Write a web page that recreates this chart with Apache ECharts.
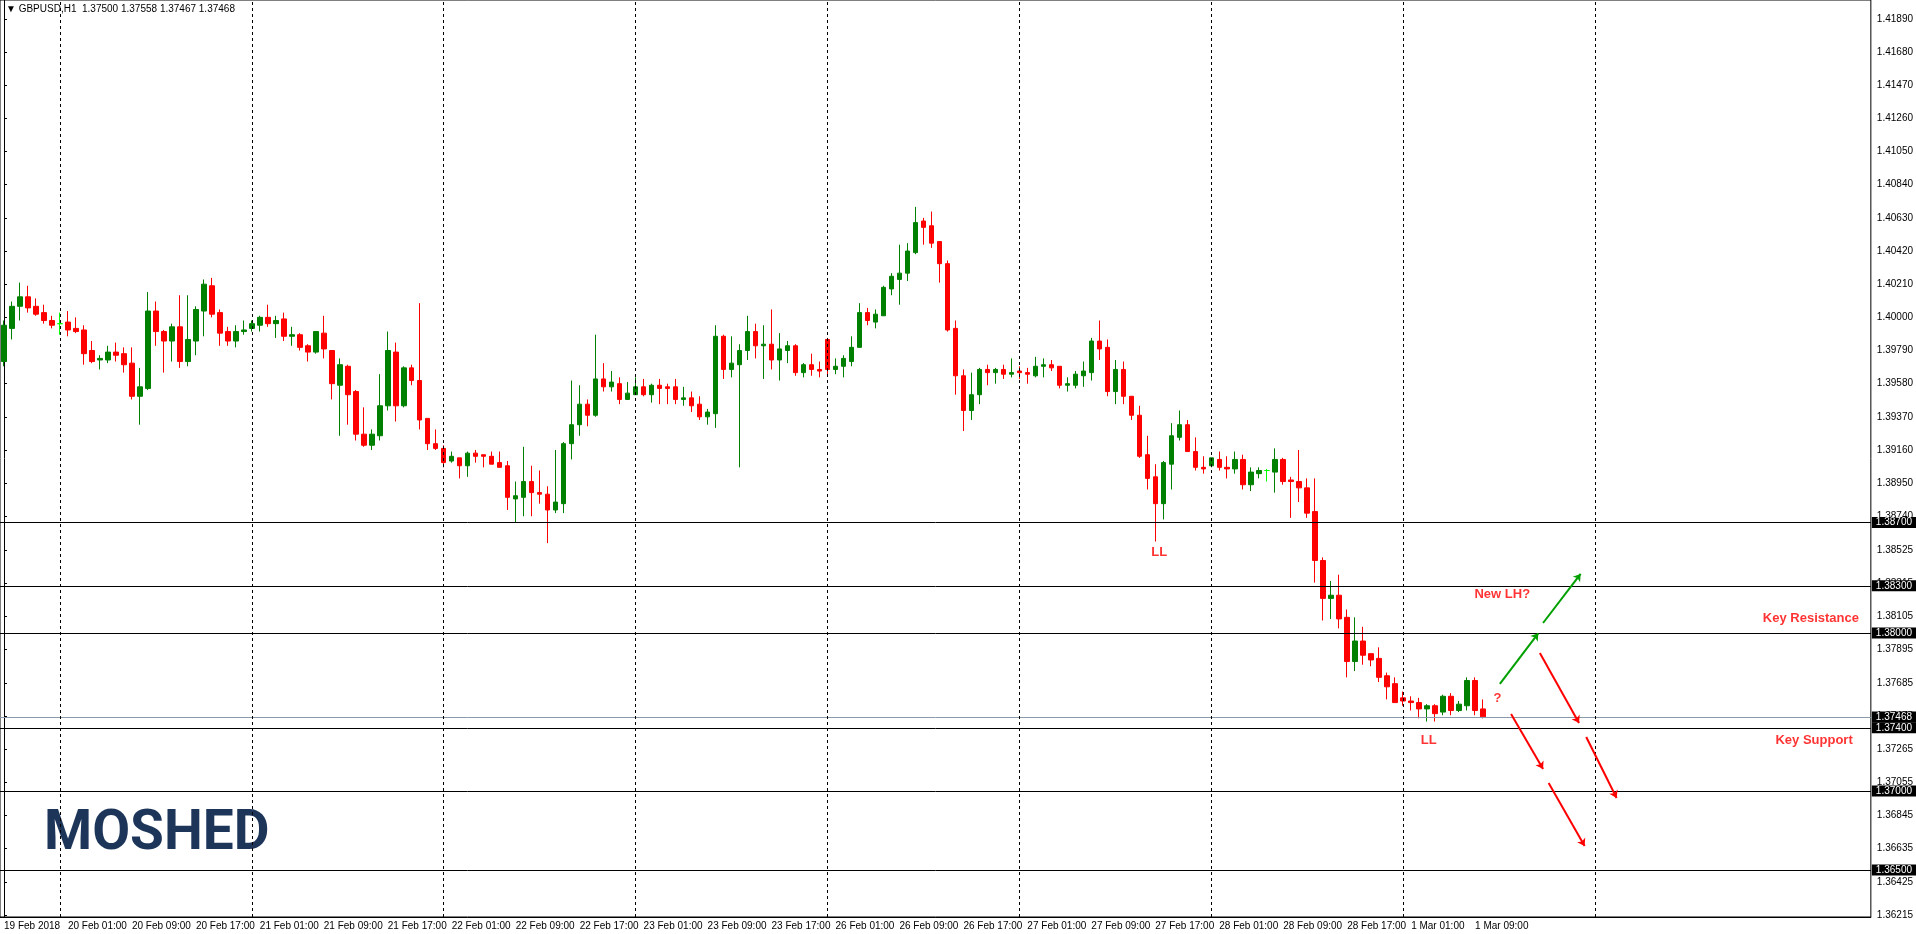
<!DOCTYPE html>
<html>
<head>
<meta charset="utf-8">
<script src="https://cdn.jsdelivr.net/npm/echarts@6/dist/echarts.min.js"></script>
<style>
  html, body { margin: 0; padding: 0; background: #fff; }
  #chart { width: 1916px; height: 934px; }
</style>
</head>
<body>
<div id="chart"></div>
<script>
// GBPUSD H1, 19 Feb 17:00 .. 1 Mar 09:00
const opens = [
  1.3972,1.3993,1.4007,1.4013,1.4007,1.4003,1.3998,1.3996,1.3997,1.3993,1.3992,1.3979,1.3973,1.3973,1.3978,1.3977,1.3971,1.3950,1.3955,1.4004,
  1.3991,1.3985,1.3994,1.3972,1.3985,1.4004,1.4020,1.4003,1.3991,1.3985,1.3991,1.3993,1.3995,1.4000,1.3996,1.3999,1.3988,1.3989,1.3982,1.3978,
  1.3990,1.3979,1.3957,1.3969,1.3953,1.3926,1.3919,1.3925,1.3944,1.3978,1.3944,1.3968,1.3960,1.3936,1.3920,1.3917,1.3909,1.3911,1.3906,1.3914,
  1.3913,1.3912,1.3908,1.3906,1.3885,1.3886,1.3896,1.3889,1.3888,1.3878,1.3882,1.3920,1.3932,1.3945,1.3938,1.3961,1.3956,1.3958,1.3948,1.3951,
  1.3956,1.3951,1.3957,1.3956,1.3956,1.3948,1.3949,1.3945,1.3937,1.3939,1.3988,1.3967,1.3970,1.3979,1.3991,1.3982,1.3983,1.3973,1.3979,1.3982,
  1.3965,1.3970,1.3967,1.3986,1.3967,1.3969,1.3972,1.3981,1.4003,1.3997,1.4001,1.4018,1.4024,1.4028,1.4041,1.4061,1.4058,1.4048,1.4034,1.3993,
  1.3963,1.3941,1.3951,1.3967,1.3965,1.3967,1.3964,1.3966,1.3965,1.3963,1.3969,1.3970,1.3969,1.3957,1.3957,1.3963,1.3965,1.3985,1.3981,1.3953,
  1.3967,1.3950,1.3938,1.3913,1.3899,1.3882,1.3907,1.3924,1.3932,1.3915,1.3905,1.3906,1.3910,1.3905,1.3904,1.3910,1.3894,1.3901,1.3903,1.3902,
  1.3910,1.3897,1.3896,1.3892,1.3877,1.3846,1.3822,1.3824,1.3810,1.3782,1.3795,1.3787,1.3784,1.3773,1.3768,1.3759,1.3757,1.3756,1.3752,1.3754,
  1.3750,1.3760,1.3751,1.3754,1.3770,1.3752
];
const closes = [
  1.3995,1.4007,1.4013,1.4006,1.4002,1.3998,1.3995,1.3996,1.3992,1.3991,1.3977,1.3972,1.3974,1.3978,1.3976,1.3970,1.3950,1.3956,1.4004,1.3991,
  1.3985,1.3994,1.3972,1.3986,1.4005,1.4021,1.4002,1.3990,1.3985,1.3991,1.3992,1.3996,1.4000,1.3996,1.3998,1.3988,1.3989,1.3981,1.3978,1.3991,
  1.3980,1.3958,1.3970,1.3951,1.3926,1.3919,1.3926,1.3944,1.3979,1.3944,1.3968,1.3960,1.3935,1.3920,1.3917,1.3908,1.3912,1.3906,1.3914,1.3912,
  1.3912,1.3907,1.3905,1.3886,1.3887,1.3896,1.3889,1.3888,1.3878,1.3883,1.3920,1.3932,1.3945,1.3938,1.3961,1.3956,1.3959,1.3948,1.3952,1.3956,
  1.3951,1.3957,1.3955,1.3955,1.3948,1.3949,1.3944,1.3937,1.3940,1.3988,1.3967,1.3971,1.3979,1.3991,1.3982,1.3983,1.3973,1.3980,1.3982,1.3965,
  1.3970,1.3967,1.3966,1.3967,1.3969,1.3974,1.3981,1.4003,1.3998,1.4002,1.4019,1.4026,1.4028,1.4042,1.4060,1.4057,1.4047,1.4034,1.3992,1.3963,
  1.3941,1.3951,1.3967,1.3965,1.3967,1.3964,1.3965,1.3965,1.3964,1.3969,1.3970,1.3968,1.3957,1.3958,1.3964,1.3966,1.3985,1.3980,1.3953,1.3967,
  1.3950,1.3938,1.3912,1.3898,1.3882,1.3908,1.3925,1.3932,1.3915,1.3905,1.3904,1.3911,1.3905,1.3904,1.3910,1.3894,1.3902,1.3903,1.3903,1.3910,
  1.3896,1.3896,1.3892,1.3876,1.3846,1.3822,1.3824,1.3809,1.3782,1.3795,1.3786,1.3783,1.3772,1.3766,1.3756,1.3757,1.3756,1.3752,1.3754,1.3749,
  1.3760,1.3751,1.3755,1.3770,1.3751,1.3747
];
const lows = [
  1.3969,1.3986,1.3998,1.4003,1.4001,1.3996,1.3993,1.3989,1.3988,1.3990,1.3970,1.3971,1.3967,1.3971,1.3972,1.3965,1.3948,1.3932,1.3954,1.3982,
  1.3965,1.3972,1.3968,1.3969,1.3976,1.3988,1.4000,1.3982,1.3982,1.3981,1.3989,1.3991,1.3991,1.3994,1.3987,1.3985,1.3982,1.3979,1.3972,1.3977,
  1.3974,1.3948,1.3925,1.3932,1.3922,1.3918,1.3916,1.3922,1.3941,1.3934,1.3943,1.3957,1.3929,1.3916,1.3916,1.3905,1.3908,1.3898,1.3899,1.3908,
  1.3905,1.3907,1.3905,1.3878,1.3870,1.3874,1.3874,1.3882,1.3857,1.3876,1.3876,1.3910,1.3925,1.3931,1.3937,1.3953,1.3953,1.3945,1.3948,1.3951,
  1.3950,1.3946,1.3945,1.3945,1.3945,1.3944,1.3940,1.3935,1.3932,1.3930,1.3961,1.3962,1.3905,1.3973,1.3974,1.3961,1.3967,1.3960,1.3971,1.3963,
  1.3962,1.3963,1.3962,1.3963,1.3964,1.3962,1.3969,1.3981,1.3995,1.3993,1.4001,1.4014,1.4008,1.4023,1.4040,1.4046,1.4044,1.4022,1.3991,1.3951,
  1.3928,1.3935,1.3945,1.3957,1.3958,1.3961,1.3962,1.3961,1.3958,1.3962,1.3962,1.3966,1.3955,1.3953,1.3955,1.3956,1.3960,1.3973,1.3950,1.3945,
  1.3945,1.3935,1.3911,1.3891,1.3858,1.3872,1.3891,1.3922,1.3915,1.3903,1.3901,1.3905,1.3903,1.3898,1.3901,1.3891,1.3890,1.3898,1.3896,1.3889,
  1.3894,1.3873,1.3883,1.3873,1.3832,1.3808,1.3809,1.3803,1.3772,1.3776,1.3780,1.3779,1.3769,1.3758,1.3756,1.3754,1.3751,1.3746,1.3744,1.3744,
  1.3748,1.3748,1.3750,1.3751,1.3748,1.3746
];
const highs = [
  1.3998,1.4010,1.4022,1.4020,1.4012,1.4008,1.4001,1.4003,1.4004,1.4000,1.3995,1.3985,1.3976,1.3982,1.3984,1.3981,1.3981,1.3968,1.4016,1.4010,
  1.3992,1.3996,1.4014,1.4014,1.4007,1.4024,1.4025,1.4005,1.3994,1.3995,1.3998,1.3998,1.4001,1.4008,1.4001,1.4003,1.3994,1.3990,1.3983,1.3991,
  1.4001,1.3979,1.3974,1.3970,1.3954,1.3943,1.3929,1.3964,1.3991,1.3984,1.3969,1.3970,1.4009,1.3936,1.3929,1.3919,1.3915,1.3911,1.3915,1.3916,
  1.3913,1.3915,1.3915,1.3909,1.3896,1.3918,1.3906,1.3903,1.3893,1.3916,1.3921,1.3960,1.3957,1.3948,1.3989,1.3971,1.3966,1.3962,1.3959,1.3962,
  1.3961,1.3958,1.3961,1.3958,1.3961,1.3956,1.3953,1.3950,1.3942,1.3995,1.3989,1.3988,1.3983,1.4001,1.3996,1.3995,1.4005,1.3990,1.3985,1.3983,
  1.3971,1.3977,1.3972,1.3987,1.3974,1.3976,1.3988,1.4009,1.4006,1.4005,1.4020,1.4028,1.4046,1.4047,1.4070,1.4063,1.4067,1.4048,1.4036,1.3998,
  1.3967,1.3965,1.3968,1.3970,1.3968,1.3970,1.3974,1.3969,1.3968,1.3975,1.3974,1.3973,1.3969,1.3962,1.3966,1.3972,1.3987,1.3998,1.3986,1.3973,
  1.3972,1.3950,1.3944,1.3925,1.3907,1.3909,1.3933,1.3941,1.3935,1.3924,1.3912,1.3911,1.3915,1.3912,1.3915,1.3913,1.3905,1.3905,1.3904,1.3917,
  1.3911,1.3899,1.3916,1.3898,1.3898,1.3848,1.3833,1.3837,1.3815,1.3810,1.3804,1.3787,1.3791,1.3775,1.3772,1.3763,1.3760,1.3759,1.3755,1.3755,
  1.3761,1.3762,1.3757,1.3772,1.3772,1.3758
];

const tickLabels = [
  "19 Feb 2018","20 Feb 01:00","20 Feb 09:00","20 Feb 17:00","21 Feb 01:00","21 Feb 09:00","21 Feb 17:00",
  "22 Feb 01:00","22 Feb 09:00","22 Feb 17:00","23 Feb 01:00","23 Feb 09:00","23 Feb 17:00",
  "26 Feb 01:00","26 Feb 09:00","26 Feb 17:00","27 Feb 01:00","27 Feb 09:00","27 Feb 17:00",
  "28 Feb 01:00","28 Feb 09:00","28 Feb 17:00","1 Mar 01:00","1 Mar 09:00"
];
const priceTicks = [
  1.41890,1.41680,1.41470,1.41260,1.41050,1.40840,1.40630,1.40420,1.40210,1.40000,1.39790,1.39580,1.39370,
  1.39160,1.38950,1.38740,1.38525,1.38315,1.38105,1.37895,1.37685,1.37475,1.37265,1.37055,1.36845,1.36635,
  1.36425,1.36215
];
const levels = [1.38700, 1.38300, 1.38000, 1.37400, 1.37000, 1.36500];
const lastPrice = 1.37468;
const gridBars = [7, 31, 55, 79, 103, 127, 151, 175, 199];
const SLOTS = 234;

// annotations: [bar position, price, text]
const notes = [
  [144.5, 1.38508, "LL"],
  [178.2, 1.37323, "LL"],
  [186.8, 1.37589, "?"],
  [187.4, 1.38242, "New LH?"],
  [226.0, 1.38096, "Key Resistance"],
  [226.4, 1.37323, "Key Support"]
];
const greenArrows = [
  [[187.1, 1.37678], [191.9, 1.37999]],
  [[192.5, 1.38064], [197.2, 1.38375]]
];
const redArrows = [
  [[192.1, 1.37874], [197.0, 1.37431]],
  [[197.9, 1.37342], [201.7, 1.36956]],
  [[188.5, 1.37488], [192.5, 1.37140]],
  [[193.2, 1.37051], [197.7, 1.36652]]
];

const categories = Array.from({ length: SLOTS }, (_, i) => String(i));
const FONT = "Liberation Sans";

const candles = opens.map((o, i) => {
  const item = { value: [o, closes[i], lows[i], highs[i]] };
  if (o === closes[i]) {
    item.itemStyle = { color: "#00ff00", color0: "#00ff00", borderColor: "#00ff00", borderColor0: "#00ff00" };
  }
  return item;
});

function arrowLines(list, color) {
  return list.map(([a, b]) => [
    { coord: a, lineStyle: { color, width: 2, type: "solid" } },
    { coord: b },
  ]);
}

const chart = echarts.init(document.getElementById("chart"), null, { renderer: "canvas" });
chart.setOption({
  animation: false,
  backgroundColor: "#ffffff",
  grid: { left: 0, right: 43, top: 0, bottom: 17, show: true, borderColor: "#000", borderWidth: 1 },
  graphic: [
    { type: "text", left: 6, top: 4, style: { text: "▼ GBPUSD,H1  1.37500 1.37558 1.37467 1.37468", font: "10px " + FONT, fill: "#000" } },
    { type: "text", left: 44, top: 808, style: { text: "MOSHED", font: "bold 55px Roboto", fill: "#1c3559" } },
  ],
  xAxis: [
    {
      type: "category",
      data: categories,
      boundaryGap: true,
      axisLine: { lineStyle: { color: "#000" } },
      axisTick: { interval: (i) => i % 8 === 0 && i / 8 < tickLabels.length, length: 3, lineStyle: { color: "#000" } },
      axisLabel: {
        interval: (i) => i % 8 === 0 && i / 8 < tickLabels.length,
        formatter: (v, i) => tickLabels[i / 8] || "",
        align: "left",
        margin: 4,
        color: "#000",
        fontFamily: FONT,
        fontSize: 10,
      },
      splitLine: { show: false },
    },
    { type: "value", min: -0.5, max: SLOTS - 0.5, show: false },
  ],
  yAxis: {
    type: "value",
    position: "right",
    min: 1.36202,
    max: 1.42010,
    axisLine: { show: true, lineStyle: { color: "#000" } },
    axisTick: { show: true, inside: false, length: 3, customValues: priceTicks, lineStyle: { color: "#000" } },
    axisLabel: { customValues: priceTicks, formatter: (v) => v.toFixed(5), margin: 6, color: "#000", fontFamily: FONT, fontSize: 10 },
    splitLine: { show: false },
  },
  series: [
    {
      type: "candlestick",
      data: candles,
      barWidth: 5,
      itemStyle: { color: "#008000", color0: "#ff0000", borderColor: "#008000", borderColor0: "#ff0000", borderWidth: 1 },
      emphasis: { disabled: true },
      markLine: {
        silent: true,
        symbol: "none",
        precision: 5,
        animation: false,
        label: {
          show: true,
          position: "end",
          distance: 1,
          formatter: (p) => p.value.toFixed(5),
          backgroundColor: "#000",
          color: "#fff",
          fontFamily: FONT,
          fontSize: 10,
          padding: [1, 4, 0, 4],
        },
        data: [
          ...levels.map((v) => ({ yAxis: v, lineStyle: { color: "#000", width: 1, type: "solid" } })),
          { yAxis: lastPrice, lineStyle: { color: "#8a9aab", width: 1, type: "solid" } },
        ],
      },
    },
    {
      type: "line",
      xAxisIndex: 1,
      yAxisIndex: 0,
      data: [],
      silent: true,
      markLine: {
        silent: true,
        animation: false,
        symbol: "none",
        label: { show: false },
        lineStyle: { color: "#000", width: 1, type: [3, 3] },
        data: gridBars.map((b) => ({ xAxis: b })),
      },
    },
    {
      type: "scatter",
      xAxisIndex: 1,
      yAxisIndex: 0,
      symbolSize: 0,
      silent: true,
      data: notes.map((n) => ({ value: [n[0], n[1]], name: n[2] })),
      label: {
        show: true,
        position: "inside",
        formatter: (p) => p.name,
        color: "#ff0000",
        fontFamily: FONT,
        fontWeight: "bold",
        fontSize: 13,
      },
      markLine: {
        silent: true,
        animation: false,
        symbol: ["none", "arrow"],
        symbolSize: 7,
        precision: 5,
        label: { show: false },
        data: [
          ...arrowLines(greenArrows, "#00a000"),
          ...arrowLines(redArrows, "#ff0000"),
        ],
      },
    },
  ],
});
</script>
</body>
</html>
